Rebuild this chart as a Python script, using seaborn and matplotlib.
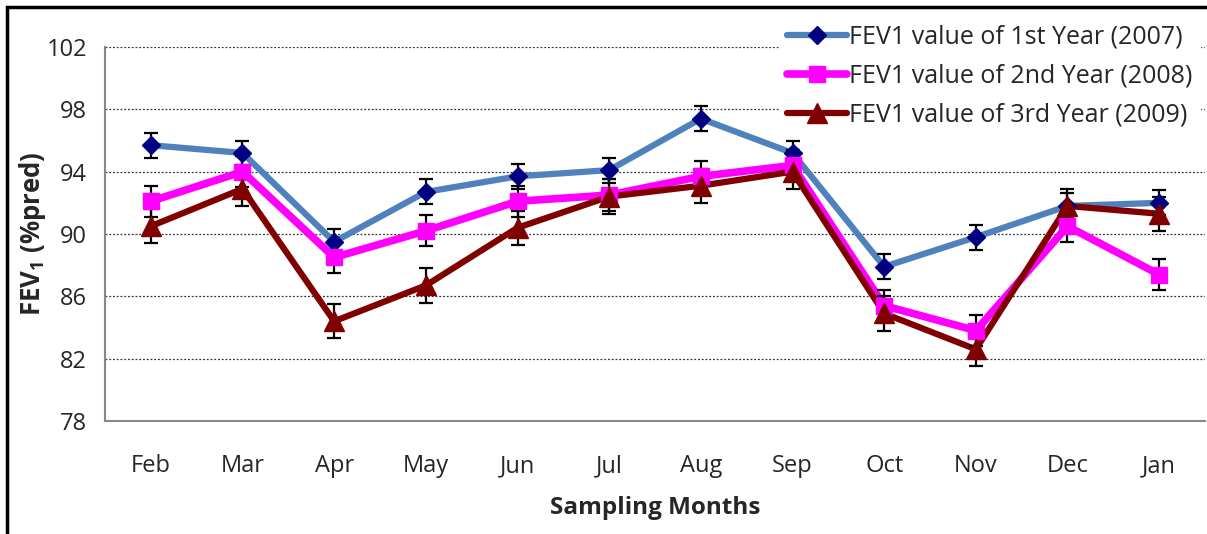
import matplotlib
matplotlib.use("Agg")
import matplotlib.pyplot as plt
from matplotlib.lines import Line2D
from matplotlib.patches import Rectangle
import seaborn as sns
import pandas as pd
import numpy as np

months = ['Feb', 'Mar', 'Apr', 'May', 'Jun', 'Jul', 'Aug', 'Sep', 'Oct', 'Nov', 'Dec', 'Jan']
y2007 = [95.7, 95.2, 89.5, 92.7, 93.7, 94.1, 97.4, 95.2, 87.9, 89.8, 91.8, 92.0]
y2008 = [92.1, 94.0, 88.5, 90.2, 92.1, 92.5, 93.7, 94.4, 85.4, 83.8, 90.5, 87.4]
y2009 = [90.5, 92.9, 84.4, 86.7, 90.4, 92.4, 93.1, 94.0, 84.9, 82.6, 91.8, 91.3]
err2007 = [0.8, 0.8, 0.8, 0.8, 0.8, 0.8, 0.8, 0.8, 0.8, 0.8, 0.8, 0.8]
err2008 = [1.0, 1.0, 1.0, 1.0, 1.0, 1.0, 1.0, 1.0, 1.0, 1.0, 1.0, 1.0]
err2009 = [1.1, 1.1, 1.1, 1.1, 1.1, 1.1, 1.1, 1.1, 1.1, 1.1, 1.1, 1.1]
labels = ['FEV1 value of 1st Year (2007)', 'FEV1 value of 2nd Year (2008)', 'FEV1 value of 3rd Year (2009)']
yticks = [78, 82, 86, 90, 94, 98, 102]

sns.set_theme(style="white")
FONT = 'Open Sans'
plt.rcParams['font.family'] = [FONT, 'DejaVu Sans']
plt.rcParams['mathtext.fontset'] = 'custom'
plt.rcParams['mathtext.rm'] = FONT
plt.rcParams['mathtext.bf'] = FONT + ':bold'

fig = plt.figure(figsize=(12.07, 5.34), dpi=100)
ax = fig.add_axes([105/1207, 1-421/534, 1100/1207, 374/534])

x = np.arange(len(months))
series = [
    (y2007, err2007, '#4F81BD', 'D', '#000080', 9.5, 4.5),
    (y2008, err2008, '#FF00FF', 's', '#FF00FF', 11, 5.5),
    (y2009, err2009, '#800000', '^', '#800000', 14.5, 4.5),
]

for vals, errs, lc, mk, mc, ms, lw in series:
    df = pd.DataFrame({'x': x, 'y': vals})
    sns.lineplot(data=df, x='x', y='y', ax=ax, color=lc, lw=lw, zorder=3, legend=False)
for vals, errs, lc, mk, mc, ms, lw in series:
    ax.errorbar(x, vals, yerr=errs, fmt='none', ecolor='black', elinewidth=1.6,
                capsize=5, capthick=1.6, zorder=4)
for vals, errs, lc, mk, mc, ms, lw in series:
    ax.plot(x, vals, linestyle='none', marker=mk, markersize=ms,
            markerfacecolor=mc, markeredgecolor=mc, zorder=5)

ax.set_xlim(-0.5, 11.5)
ax.set_ylim(78, 102)
ax.set_yticks(yticks)
ax.set_yticklabels([str(v) for v in yticks], fontsize=17)
ax.set_xticks(x)
ax.set_xticklabels(months, fontsize=17)
ax.set_xticks(np.arange(-0.5, 12, 1), minor=True)
ax.tick_params(axis='x', which='major', length=0, pad=24)
ax.tick_params(axis='x', which='minor', length=7, width=1.5, color='#888888', direction='out')
ax.tick_params(axis='y', which='major', length=7, width=1.5, color='#888888', direction='out', pad=6)
for sp in ['top', 'right']:
    ax.spines[sp].set_visible(False)
for sp in ['left', 'bottom']:
    ax.spines[sp].set_color('#888888')
    ax.spines[sp].set_linewidth(1.5)

for v in yticks[1:]:
    ax.axhline(v, color='#333333', lw=0.9, linestyle=(0, (1.5, 1.5)), zorder=1)

ax.set_ylabel('FEV$_\\mathbf{1}$ (%pred)', fontsize=18.5, fontweight='bold')
ax.yaxis.set_label_coords(-0.052, 0.5)
ax.set_xlabel('Sampling Months', fontsize=17.5, fontweight='bold')
ax.xaxis.set_label_coords(0.5, -0.2)

handles = []
for vals, errs, lc, mk, mc, ms, lw in series:
    handles.append(Line2D([0], [0], color=lc, lw=lw, marker=mk, markersize=ms,
                          markerfacecolor=mc, markeredgecolor=mc))
leg = fig.legend(handles, labels, loc='upper right', bbox_to_anchor=(1200/1207, 1-17/534),
                 fontsize=18, frameon=True, handlelength=2.4, handletextpad=0.1,
                 labelspacing=0.57, borderpad=0.3, borderaxespad=0)
leg.get_frame().set_facecolor('white')
leg.get_frame().set_edgecolor('white')
leg.get_frame().set_alpha(1)
leg.set_zorder(10)

fig.patches.append(Rectangle((7/1207, -0.2), 1.5, 1.2 - 7/534, transform=fig.transFigure,
                             fill=False, edgecolor='black', linewidth=2.5, zorder=20))

fig.savefig('out.png', dpi=100, facecolor='white')
